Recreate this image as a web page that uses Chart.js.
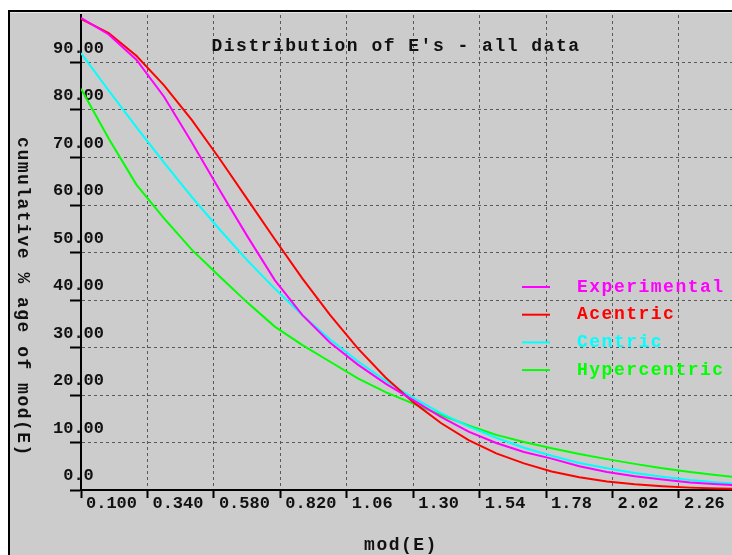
<!DOCTYPE html>
<html>
<head>
<meta charset="utf-8">
<script src="https://cdn.jsdelivr.net/npm/chart.js@4/dist/chart.umd.min.js"></script>
<style>
html,body{margin:0;padding:0;background:#fff;}
canvas{display:block;}
</style>
</head>
<body>
<canvas id="c" width="732" height="555"></canvas>
<script>
// ---- data ----
const chartTitle = "Distribution of E's - all data";
const xTitle = "mod(E)";
const yTitle = "cumulative % age of mod(E)";

const modE = [0.1,0.2,0.3,0.4,0.5,0.6,0.7,0.8,0.9,1.0,1.1,1.2,1.3,1.4,1.5,1.6,1.7,1.8,1.9,2.0,2.1,2.2,2.3,2.4,2.5];

const experimental = [99.4,95.9,90.6,82.8,73.2,63.2,53.5,44.2,36.8,31.0,26.4,22.4,18.9,15.4,12.3,9.9,8.0,6.6,5.0,3.8,2.9,2.2,1.6,1.2,0.9];
const acentric     = [99.2,96.2,91.4,85.2,77.9,69.8,61.3,52.8,44.5,36.8,29.8,23.7,18.5,14.1,10.5,7.7,5.6,3.9,2.7,1.8,1.2,0.8,0.5,0.3,0.2];
const centric      = [92.0,84.1,76.4,68.9,61.7,54.9,48.4,42.4,36.8,31.7,27.1,23.0,19.4,16.2,13.4,11.0,8.9,7.2,5.7,4.6,3.6,2.8,2.1,1.6,1.2];
const hypercentric = [84.5,74.0,64.3,57.2,50.6,45.0,39.5,34.4,30.5,27.0,23.5,20.6,18.2,15.8,13.6,11.6,10.1,8.8,7.6,6.5,5.5,4.6,3.8,3.1,2.5];

const seriesNames = ["Experimental","Acentric","Centric","Hypercentric"];
const seriesColors = ["#ff00ff","#ff0000","#00ffff","#00ff00"];

const xTickValues = [0.10,0.34,0.58,0.82,1.06,1.30,1.54,1.78,2.02,2.26];
const xTickLabels = ["0.100","0.340","0.580","0.820","1.06","1.30","1.54","1.78","2.02","2.26"];
const yTickValues = [0,10,20,30,40,50,60,70,80,90];
const yTickLabels = ["0.0","10.00","20.00","30.00","40.00","50.00","60.00","70.00","80.00","90.00"];

// ---- drawing ----
const seriesData = [experimental, acentric, centric, hypercentric];
const MONO = '"Liberation Mono", "DejaVu Sans Mono", monospace';

const bgPlugin = {
  id: 'bg',
  beforeDraw(chart) {
    const c = chart.ctx;
    c.save();
    c.fillStyle = '#ffffff';
    c.fillRect(0, 0, chart.width, chart.height);
    c.fillStyle = '#cccccc';
    c.fillRect(8, 10, chart.width - 8, chart.height - 10);
    c.fillStyle = '#e6e6e6';
    c.fillRect(10, 12, chart.width - 10, 1);
    c.fillStyle = '#000000';
    c.fillRect(8, 10, chart.width - 8, 2);
    c.fillRect(8, 10, 2, chart.height - 10);
    c.restore();
  }
};

const textPlugin = {
  id: 'texts',
  afterDraw(chart) {
    const c = chart.ctx;
    c.save();
    try { c.letterSpacing = '1.5px'; } catch (e) {}
    c.font = 'bold 18px ' + MONO;
    c.textBaseline = 'middle';
    c.textAlign = 'center';
    c.fillStyle = '#111111';
    c.fillText(chartTitle, 396, 46);
    c.fillText(xTitle, 401, 545);
    c.save();
    c.translate(23, 297);
    c.rotate(Math.PI / 2);
    c.fillText(yTitle, 0, 0);
    c.restore();
    // legend
    c.textAlign = 'left';
    chart.data.datasets.forEach((ds, i) => {
      const y = 287 + i * 27.7;
      c.strokeStyle = ds.borderColor;
      c.lineWidth = 2;
      c.beginPath();
      c.moveTo(522, y);
      c.lineTo(550, y);
      c.stroke();
      c.fillStyle = ds.borderColor;
      c.fillText(ds.label, 577, y);
    });
    c.restore();
  }
};

const tickFont = { family: MONO, size: 17, weight: 'bold' };

new Chart(document.getElementById('c'), {
  type: 'line',
  data: {
    datasets: seriesNames.map((name, i) => ({
      label: name,
      data: modE.map((x, j) => ({ x: x, y: seriesData[i][j] })),
      borderColor: seriesColors[i],
      backgroundColor: seriesColors[i],
      borderWidth: 2,
      pointRadius: 0,
      tension: 0,
      fill: false,
      order: i
    }))
  },
  options: {
    responsive: false,
    animation: false,
    devicePixelRatio: 1,
    layout: { padding: { left: 0, right: 0, top: 15, bottom: 0 } },
    plugins: {
      legend: { display: false },
      title: { display: false },
      tooltip: { enabled: false }
    },
    scales: {
      x: {
        type: 'linear',
        min: 0.1,
        max: 2.4515,
        afterBuildTicks(s) { s.ticks = xTickValues.map(v => ({ value: v })); },
        afterFit(s) { s.height = 65; },
        ticks: {
          autoSkip: false, maxRotation: 0, minRotation: 0,
          align: 'start', labelOffset: 5, padding: -4.5,
          color: '#111111', font: tickFont,
          callback: (v, i) => xTickLabels[i]
        },
        grid: { color: '#5a5a5a', lineWidth: 1, tickColor: '#000', tickWidth: 2, tickLength: 8, tickBorderDash: [] },
        border: { display: true, color: '#000', width: 2, dash: [3, 3] }
      },
      y: {
        type: 'linear',
        min: 0,
        max: 100,
        afterBuildTicks(s) { s.ticks = yTickValues.map(v => ({ value: v })); },
        afterFit(s) { s.width = 81; },
        ticks: {
          autoSkip: false, mirror: true, crossAlign: 'center', padding: -28, labelOffset: -14,
          color: '#111111', font: tickFont,
          callback: (v, i) => yTickLabels[i]
        },
        grid: { color: '#5a5a5a', lineWidth: 1, tickColor: '#000', tickWidth: 2, tickLength: 11, tickBorderDash: [] },
        border: { display: true, color: '#000', width: 2, dash: [3, 3] }
      }
    }
  },
  plugins: [bgPlugin, textPlugin]
});
</script>
</body>
</html>
